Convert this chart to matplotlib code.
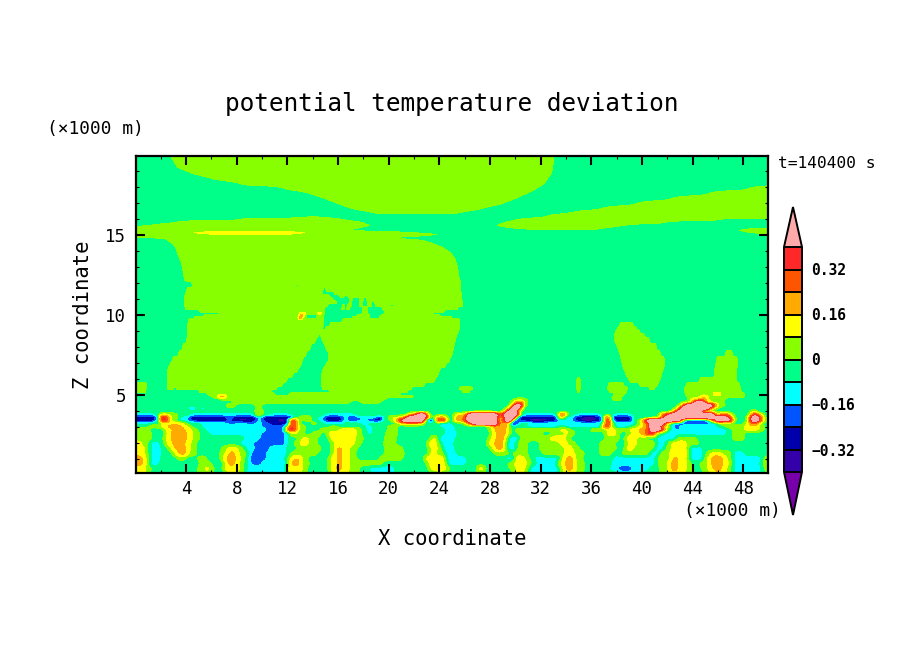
import re
import numpy as np
import matplotlib
matplotlib.use("Agg")
import matplotlib.pyplot as plt

# Class values: each letter is one colour band, value = band middle
CLASS_VALUES = {"V": -0.44, "I": -0.40, "N": -0.30, "B": -0.20, "C": -0.12, ".": -0.04,
                "L": 0.04, "Y": 0.12, "A": 0.20, "O": 0.20, "U": 0.28, "R": 0.36, "P": 0.56}
LEVELS = [-0.40, -0.32, -0.24, -0.16, -0.08, 0.0, 0.08, 0.16, 0.24, 0.32, 0.40]
COLORS = ["#3300AA", "#0000AA", "#0055FF", "#00FFFF", "#00FF88",
          "#88FF00", "#FFFF00", "#FFAA00", "#FF5500", "#FF2828"]
COLOR_UNDER = "#7700AA"
COLOR_OVER = "#FFAAAA"
CB_TICKS = [-0.32, -0.16, 0, 0.16, 0.32]
CB_LABELS = ["\u22120.32", "\u22120.16", "0", "0.16", "0.32"]
X_MAJOR = list(range(4, 49, 4))
X_MINOR = list(range(2, 50, 4))
Z_MAJOR = [5, 10, 15]
Z_MINOR = [z for z in range(1, 20) if z not in Z_MAJOR]

# Each row: (row number, runs of "band letter + last column of the run")
UPPER_ROWS = [
 (154, ".172 L554 .768"), (157, ".172 L554 .768"), (162, ".175 L554 .768"), (167, ".178 L553 .768"),
 (173, ".193 L552 .768"), (178, ".212 L548 .768"), (183, ".240 L545 .768"),
 (188, ".285 L537 .750 L768"), (193, ".310 L527 .710 L768"), (198, ".325 L516 .673 L768"),
 (203, ".338 L503 .638 L768"), (208, ".352 L483 .603 L768"), (212, ".372 L462 .573 L768"),
 (215, ".550 L768"), (216.5, ".305 L322 .545 L768"), (219, ".240 L343 .519 L720 .768"),
 (222, ".175 L362 .505 L665 .768"), (225, ".150 L370 .498 L625 .768"),
 (227, "L362 .508 L610 .768"), (229, "L352 .530 L595 .745 L768"), (230, "L345 .740 L768"),
 (231, "L375 .745 L768"), (232, "L195 Y305 L410 .750 L768"), (233, "L200 Y300 L425 .517 C606 .760 L768"),
 (234, "L215 Y287 L437 .768"), (235, "L430 .768"), (236, "L415 .768"), (237, "L395 .768"),
 (238, ".165 L400 .768"), (240, ".168 L423 .768"), (243, ".173 L433 .768"), (247, ".176 L443 .768"),
 (253, ".178 L452 .768"), (260, ".181 L456 .768"), (267, ".183 L458 .768"), (280, ".185 L460 .768"),
]
MIDDLE_ROWS = [
 (285, ".193 L297 .299 L461 .768"), (290, ".187 L323 .327 L461 .768"), (293, ".186 L323 .335 L462 .768"),
 (296, ".185 L330 .340 L345 .348 L462 .768"), (298, ".185 L333 .350 L353 .360 L364 .367 L462 .768"),
 (302, ".185 L337 .350 L352 .360 L363 .368 L372 .375 L463 .768"),
 (305, ".185 L328 .343 L345 .348 L352 .360 L363 .368 L372 .376 L391 .394 L463 .768"),
 (308, ".186 L325 .342 L345 .347 L350 .363 L368 .383 L458 .768"),
 (311, ".200 L325 .363 L368 .385 L445 .768"),
 (313, ".220 L300 Y306 L318 Y322 L325 .363 L368 .385 L433 .768"),
 (315, ".205 L300 O303 Y306 .317 L324 .358 L370 .382 L440 .768"),
 (317, ".195 L299 O303 L307 .317 L324 .353 L370 .380 L452 .768"),
 (320, ".189 L324 .343 L460 .768"), (325, ".188 L324 .330 L460 .620 L634 .768"),
 (328, ".188 L323 .326 L460 .618 L637 .768"), (331, ".188 L459 .616 L640 .768"),
 (335, ".188 L319 .321 L457 .615 L645 .768"), (340, ".187 L316 .323 L456 .615 L650 .768"),
 (347, ".183 L311 .326 L454 .618 L657 .768"), (353, ".179 L307 .329 L453 .620 L661 .726 L733 .768"),
 (360, ".173 L303 .329 L450 .622 L665 .717 L738 .768"), (365, ".170 L301 .326 L446 .623 L665 .716 L738 .768"),
 (370, ".168 L298 .323 L440 .625 L663 .715 L737 .768"), (375, ".168 L293 .322 L438 .627 L662 .715 L737 .768"),
 (380, ".168 L287 .322 L435 .577 L581 .630 L660 .700 L737 .768"),
 (384, "L147 .168 L283 .322 L425 .577 L581 .609 L624 .640 L658 .687 L740 .768"),
 (388, "L147 .168 L174 .177 L277 .323 L412 .460 L473 .577 L581 .608 L628 .650 L655 .685 L741 .768"),
 (391, "L146 .200 L272 .330 L408 .463 L470 .578 L580 .610 L627 .685 L742 .768"),
 (394, ".208 L275 .290 L400 .615 L625 .686 L713 Y722 L745 .768"),
]
LOWER_ROWS = [
 (396, ".212 L217 Y221 R224 Y227 L231 Y234 L415 .612 L622 .688 L702 O707 L745 .768"),
 (399, ".222 L385 .514 L528 .613 L622 .690 Y700 O706 Y709 L725 .768"),
 (402, ".235 L350 .362 L380 .512 Y518 R522 Y526 .682 L690 Y695 P705 Y712 L725 .768"),
 (405, ".228 Y233 L236 .256 L262 .511 Y514 R516 P521 R523 Y526 .680 Y684 R687 P713 R716 Y720 L726 .768"),
 (408, ".191 N195 .198 Y199 .201 B204 .256 L262 .507 Y510 O512 P519 R521 Y523 .676 Y680 R682 P707 R712 L718 .768"),
 (411, ".256 L258 Y261 L263 .504 Y507 R509 P516 R518 Y520 .672 Y676 R680 P701 O704 Y708 L716 .752 Y756 .768"),
 (414, "C158 L163 Y168 L178 .190 C256 Y262 .270 C292 .325 C356 .408 Y412 O418 P426 Y430 .455 Y467 R470 P497 R505 P517 R519 Y522 C558 Y561 R565 Y568 .575 C603 .613 C633 .660 Y664 R672 P713 R716 L718 Y722 R727 Y733 .750 Y753 R758 Y763 .768"),
 (417, "N158 Y161 R168 Y172 L180 C190 N228 C232 N257 C263 N293 .300 L304 Y310 .318 C325 N343 C350 N355 C358 N360 C366 B369 C377 N383 .390 Y394 L397 Y403 O408 P427 Y431 .436 O447 .455 O465 R468 P497 O506 P515 Y518 N558 Y565 C575 N583 I595 N603 Y607 R610 Y612 N633 .642 B645 .660 Y662 R668 P716 R719 P723 R727 P730 Y735 .748 Y750 R753 P758 R762 Y765 .768"),
 (420, "N158 Y161 R168 Y172 L178 C190 N228 B232 N241 I246 N257 C263 N280 I284 N290 R296 Y300 .305 L312 .318 C325 N343 C350 N355 C358 N360 C370 N383 .392 Y398 R403 P424 Y427 N435 Y437 R447 .455 O465 R468 P497 O505 P513 N518 C520 N530 I547 N558 C566 C575 N583 I595 N603 Y606 R610 Y613 N633 .640 Y644 R648 P680 R683 B692 N702 B710 Y714 R718 P724 R728 P732 Y735 .748 Y750 R753 P758 R762 Y766 .768"),
 (423, "C150 .162 Y185 .200 C228 B236 C247 B256 C262 B270 N290 R296 Y300 .312 L318 .325 C345 .360 C368 .398 Y405 O420 Y424 .440 C452 .465 Y470 R474 P498 O510 N518 C522 .530 C570 C605 R610 Y614 C635 .640 Y644 O648 R652 P665 Y670 C676 B710 C718 L732 .745 Y752 R756 Y762 .768"),
 (426, ".148 L160 Y168 O182 Y190 .203 C262 B287 Y290 R296 Y300 L306 .330 L338 .366 C373 .388 L398 .440 C455 .490 Y494 O508 Y511 C518 .525 C560 .565 C603 R609 Y614 C630 .635 L640 Y645 O650 P660 O666 L672 B680 C718 .725 L745 Y760 L765 .768"),
 (429, "L150 .165 Y173 O185 Y192 L198 .205 C267 B285 Y288 R296 Y299 L306 .320 L340 Y357 L362 .367 C373 .388 L398 .445 C456 .490 Y496 O506 Y510 .515 L560 Y567 L572 .590 L608 Y615 L630 Y640 O648 R652 P660 R666 .672 C676 B680 C727 .733 L745 Y760 L765 .768"),
 (433, "L152 .166 Y172 O187 Y193 L200 .210 C262 B287 .292 Y296 L304 .312 L322 .328 Y357 L362 .368 C373 .386 L398 .445 C458 .492 Y497 O506 Y510 .518 L542 .552 L565 Y569 L576 .606 Y617 L620 .628 L632 Y640 O647 R655 Y658 .665 C727 .733 L745 .768"),
 (438, "L152 .165 Y172 O187 Y193 L200 .245 C260 B287 .298 L303 Y309 L318 .330 Y356 L364 .385 L397 .432 Y438 C456 .490 Y497 O504 Y508 C520 L550 Y566 L570 .606 L620 .626 Y637 L647 .657 C677 L697 .733 L745 .768"),
 (443, "Y142 L150 C160 .166 Y173 O185 Y191 L197 .240 C254 B287 .294 L300 Y309 L318 .332 L335 Y355 L362 .384 L396 .428 Y437 L441 C454 .488 Y495 O503 Y507 C517 L528 .540 L560 Y568 L576 .600 L616 .626 L629 Y637 L657 C667 L672 Y687 L700 .768"),
 (448, "Y145 L150 C162 .170 Y176 O186 Y191 L197 .222 L228 Y238 L245 C255 B270 C287 .298 L322 .333 Y338 O342 Y350 L358 .385 L403 .430 Y438 L443 C455 .492 Y497 O503 Y507 C517 L528 .540 L565 Y573 L580 .600 L617 .626 Y634 L655 C665 L672 Y687 L690 C703 .768"),
 (453, "Y145 L150 C162 .174 Y180 O186 Y190 L197 .220 L226 Y230 O235 Y240 L248 C252 B267 C287 .292 L318 .333 Y338 O342 Y350 L356 .385 L405 .430 Y436 L445 C457 .495 L510 .513 L528 .543 L565 Y575 L585 .600 L612 .622 L650 C660 L670 Y688 L690 C705 L712 Y722 L733 C745 .768"),
 (458, "O143 Y147 L150 C161 .178 L186 .198 L207 .222 Y227 O236 Y241 L247 C250 B267 C287 L291 Y296 O299 Y303 L308 .330 Y338 O342 Y350 L358 .380 L403 .425 Y446 C467 .505 C515 Y525 L530 .535 C560 L563 Y567 O573 Y576 L583 .613 C657 L670 Y674 O678 Y687 L690 C704 L708 Y712 O723 Y728 L733 C763 L768"),
 (463, "O143 Y147 L150 C160 .200 L211 .225 Y229 O235 Y240 L246 C252 B262 C288 Y292 O300 Y303 L310 .330 Y338 O342 Y350 L383 .428 Y447 C467 .508 L515 Y519 O523 Y527 L532 .537 C557 L561 Y566 O573 Y577 L585 .612 C657 L668 Y672 O678 Y687 L692 .700 L708 Y712 O723 Y729 L733 C762 L768"),
 (468, "Y146 L152 .198 L205 Y210 L215 .224 Y240 L246 C287 Y303 L308 .330 Y337 O342 Y350 L360 .370 C395 .430 Y447 L450 .478 Y485 .510 L517 Y525 L530 C560 L563 Y567 O573 Y577 L585 .610 C618 B633 C650 .660 L668 Y672 O678 Y687 L692 .702 L708 Y714 O722 Y727 L733 C763 L768"),
 (474, "Y145 L150 .198 L212 .228 Y238 L245 C287 L290 Y300 L308 .332 Y348 L360 .372 C395 .435 L445 .480 L484 .515 Y524 L528 C560 L566 Y575 L583 .620 C640 .660 L668 Y684 L692 .705 L712 Y726 L733 C762 .768"),
]

FIRST_COL, LAST_COL = 136, 768
columns = np.arange(FIRST_COL, LAST_COL + 1)
x_km = 0.05 + (columns - FIRST_COL) * 49.9 / (LAST_COL - FIRST_COL)


def decode(runs):
    row = np.full(columns.size, CLASS_VALUES["."])
    start = FIRST_COL
    for letter, end in re.findall(r"([A-Z.])(\d+)", runs):
        end = int(end)
        if end > start:
            row[(columns >= start) & (columns < end)] = CLASS_VALUES[letter]
            start = end
    if start <= LAST_COL:
        row[columns >= start] = row[max(start - FIRST_COL - 1, 0)]
    return row


def box(values, width, axis):
    kernel = np.ones(width) / width
    pad = [(0, 0), (0, 0)]
    pad[axis] = (width // 2, width // 2)
    padded = np.pad(values, pad, mode="edge")
    return np.apply_along_axis(lambda v: np.convolve(v, kernel, mode="valid"), axis, padded)


def soften(rows, x_width):
    # read rows are blurred along x so that neighbouring rows blend without stair steps
    return box(box(np.array([decode(r[1]) for r in rows]), x_width, 1), x_width // 2 | 1, 1)


row_pos = np.array([r[0] for r in UPPER_ROWS + MIDDLE_ROWS + LOWER_ROWS], dtype=float)
read = np.vstack([soften(UPPER_ROWS, 31), soften(MIDDLE_ROWS, 3), soften(LOWER_ROWS, 7)])
fine_pos = np.arange(154, 474.5, 1.0)
fine = np.array([np.interp(fine_pos, row_pos, read[:, c]) for c in range(read.shape[1])]).T
blurred = box(fine, 3, 0)
fine[fine_pos >= 394] = blurred[fine_pos >= 394]
z_km = 5 + (394.5 - fine_pos) / 16

W, H = 904, 654
fig = plt.figure(figsize=(W / 100, H / 100), dpi=100, facecolor="white")
ax = fig.add_axes([136 / W, 1 - 472.5 / H, 632 / W, 316.5 / H])
cs = ax.contourf(x_km, z_km[::-1], fine[::-1], levels=LEVELS, colors=COLORS,
                 extend="both", antialiased=False)
cs.cmap.set_under(COLOR_UNDER)
cs.cmap.set_over(COLOR_OVER)
cs.changed()
ax.set_xlim(0.05, 49.95)
ax.set_ylim(0.15, 19.93)

ax.set_xticks(X_MAJOR)
ax.set_xticks(X_MINOR, minor=True)
ax.set_yticks(Z_MAJOR)
ax.set_yticks(Z_MINOR, minor=True)
ax.tick_params(which="major", direction="in", top=True, right=True, length=6.5, width=1.5,
               labelsize=12.5)
ax.tick_params(axis="x", which="major", pad=5.5)
ax.tick_params(axis="y", which="major", pad=7)
ax.tick_params(which="minor", direction="in", top=True, right=True, length=2.5, width=0.8)
for lab in ax.get_xticklabels() + ax.get_yticklabels():
    lab.set_family("DejaVu Sans Mono")
for s in ax.spines.values():
    s.set_linewidth(1.6)

cax = fig.add_axes([784 / W, 1 - 515 / H, 18 / W, 308 / H])
cb = fig.colorbar(cs, cax=cax, extend="both", extendfrac=(43 / 225, 40 / 225),
                  drawedges=True, ticks=CB_TICKS)
cb.set_ticklabels(CB_LABELS)
cb.ax.tick_params(length=0, pad=6.5, labelsize=10.5)
for lab in cb.ax.get_yticklabels():
    lab.set_family("DejaVu Sans Mono")
    lab.set_weight("bold")
cb.outline.set_linewidth(1.4)
cb.dividers.set_linewidth(1.4)
cb.dividers.set_color("black")


def label(px, py, s, size, ha="left", rot=0, weight="normal"):
    fig.text(px / W, 1 - py / H, s, fontsize=size, ha=ha, va="center", rotation=rot,
             family="DejaVu Sans Mono", color="black", weight=weight)


label(452, 104, "potential temperature deviation", 17.6, "center")
label(47, 129, "(\u00d71000 m)", 12.9)
label(781, 511, "(\u00d71000 m)", 12.9, "right")
label(452, 539, "X coordinate", 14.8, "center")
label(83, 315, "Z coordinate", 14.8, "center", 90)
label(778, 163, "t=140400 s", 11.7)

fig.savefig("out.png", dpi=100)
